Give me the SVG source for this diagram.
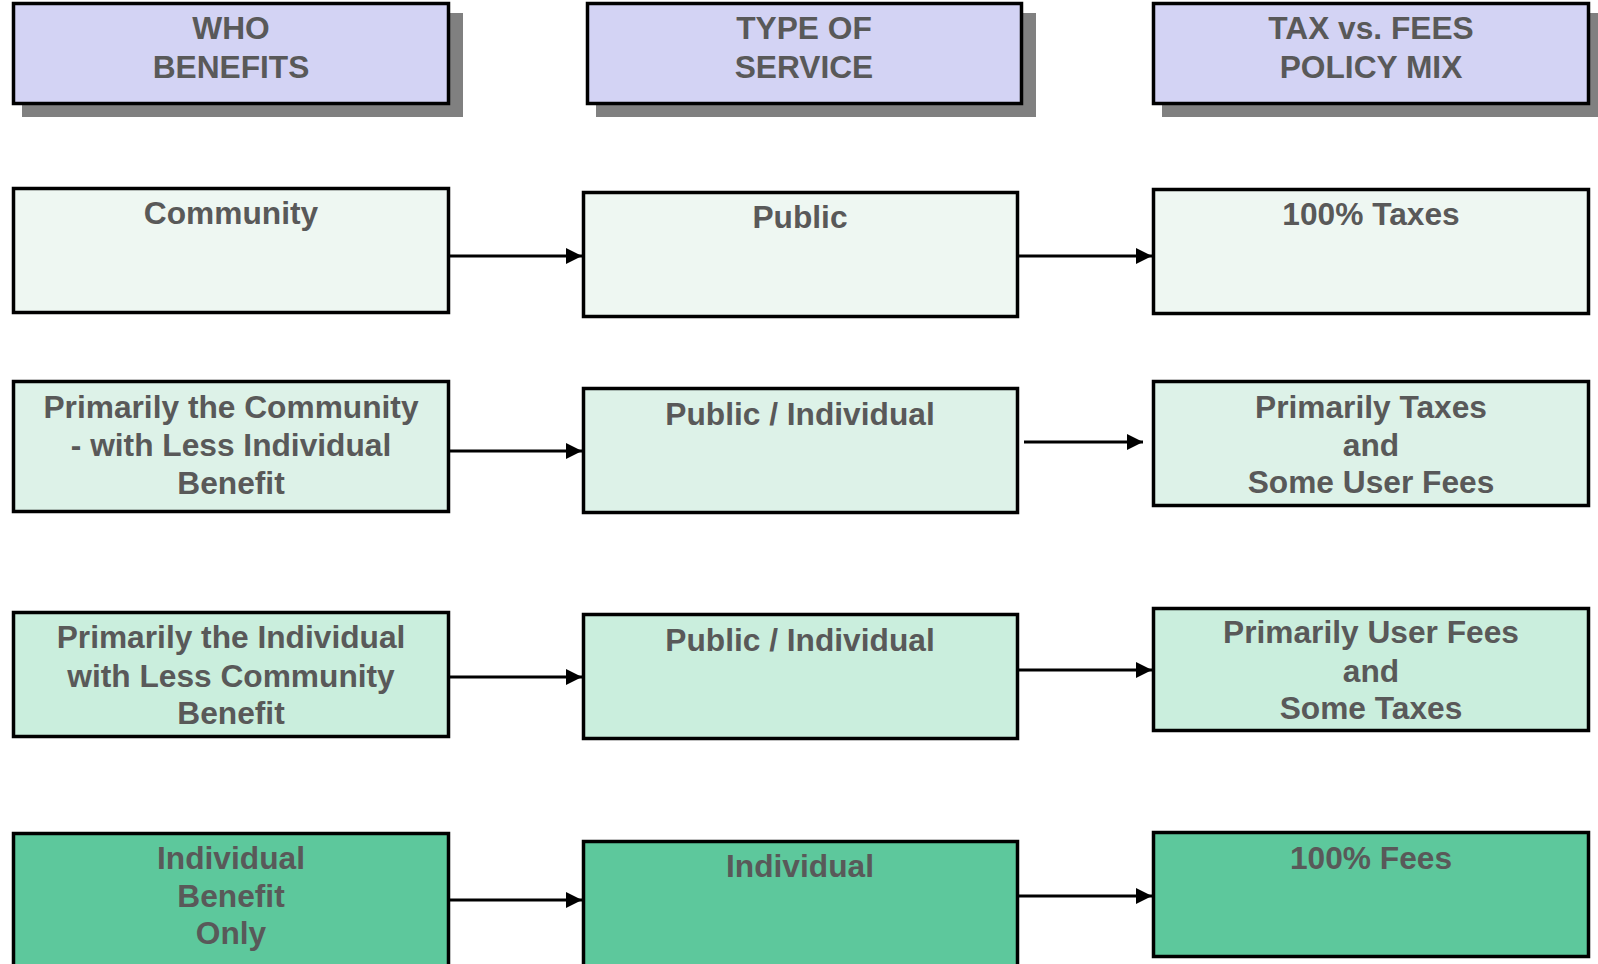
<svg xmlns="http://www.w3.org/2000/svg" width="1598" height="964" viewBox="0 0 1598 964">
<style>
.box{stroke:#000;stroke-width:3.5}
.hdr{fill:#d3d3f4}
.shadow{fill:#808080}
.r1{fill:#eef7f2}
.r2{fill:#ddf2e8}
.r3{fill:#caeedd}
.r4{fill:#5dc89c}
text{font-family:"Liberation Sans",Arial,sans-serif;font-weight:bold;font-size:31.7px;fill:#595959;text-anchor:middle}
.conn{stroke:#000;stroke-width:3;fill:none}
</style>
<defs>
<marker id="arr" markerUnits="userSpaceOnUse" markerWidth="16" markerHeight="16" refX="16" refY="8" orient="auto">
<path d="M0,0 L16,8 L0,16 Z" fill="#000"/>
</marker>
</defs>
<rect width="1598" height="964" fill="#fff"/>

<g id="header-who">
<rect class="shadow" x="22" y="13" width="441" height="104"/>
<rect class="box hdr" x="13.5" y="3.5" width="435" height="100"/>
<text x="231" y="39">WHO</text>
<text x="231" y="78">BENEFITS</text>
</g>
<g id="header-type">
<rect class="shadow" x="596" y="13" width="440" height="104"/>
<rect class="box hdr" x="587.5" y="3.5" width="434" height="100"/>
<text x="804" y="39">TYPE OF</text>
<text x="804" y="78">SERVICE</text>
</g>
<g id="header-tax">
<rect class="shadow" x="1162" y="13" width="441" height="104"/>
<rect class="box hdr" x="1153.5" y="3.5" width="435" height="100"/>
<text x="1371" y="39">TAX vs. FEES</text>
<text x="1371" y="78">POLICY MIX</text>
</g>

<g id="community">
<rect class="box r1" x="13.5" y="188.5" width="435" height="124"/>
<text x="231" y="224">Community</text>
</g>
<g id="public">
<rect class="box r1" x="583.5" y="192.5" width="434" height="124"/>
<text x="800" y="228">Public</text>
</g>
<g id="taxes100">
<rect class="box r1" x="1153.5" y="189.5" width="435" height="124"/>
<text x="1371" y="225">100% Taxes</text>
</g>

<g id="primarily-community">
<rect class="box r2" x="13.5" y="381.5" width="435" height="130"/>
<text x="231" y="418">Primarily the Community</text>
<text x="231" y="456">- with Less Individual</text>
<text x="231" y="494">Benefit</text>
</g>
<g id="public-individual-1">
<rect class="box r2" x="583.5" y="388.5" width="434" height="124"/>
<text x="800" y="425">Public / Individual</text>
</g>
<g id="primarily-taxes">
<rect class="box r2" x="1153.5" y="381.5" width="435" height="124"/>
<text x="1371" y="418">Primarily Taxes</text>
<text x="1371" y="456">and</text>
<text x="1371" y="493">Some User Fees</text>
</g>

<g id="primarily-individual">
<rect class="box r3" x="13.5" y="612.5" width="435" height="124"/>
<text x="231" y="648">Primarily the Individual</text>
<text x="231" y="687">with Less Community</text>
<text x="231" y="724">Benefit</text>
</g>
<g id="public-individual-2">
<rect class="box r3" x="583.5" y="614.5" width="434" height="124"/>
<text x="800" y="651">Public / Individual</text>
</g>
<g id="primarily-fees">
<rect class="box r3" x="1153.5" y="608.5" width="435" height="122"/>
<text x="1371" y="643">Primarily User Fees</text>
<text x="1371" y="682">and</text>
<text x="1371" y="719">Some Taxes</text>
</g>

<g id="individual-benefit">
<rect class="box r4" x="13.5" y="833.5" width="435" height="140"/>
<text x="231" y="869">Individual</text>
<text x="231" y="907">Benefit</text>
<text x="231" y="944">Only</text>
</g>
<g id="individual">
<rect class="box r4" x="583.5" y="841.5" width="434" height="140"/>
<text x="800" y="877">Individual</text>
</g>
<g id="fees100">
<rect class="box r4" x="1153.5" y="832.5" width="435" height="124"/>
<text x="1371" y="869">100% Fees</text>
</g>

<g id="connectors">
<line class="conn" x1="450" y1="256" x2="582" y2="256" marker-end="url(#arr)"/>
<line class="conn" x1="1019" y1="256" x2="1152" y2="256" marker-end="url(#arr)"/>
<line class="conn" x1="450" y1="451" x2="582" y2="451" marker-end="url(#arr)"/>
<line class="conn" x1="1024" y1="442" x2="1143" y2="442" marker-end="url(#arr)"/>
<line class="conn" x1="450" y1="677" x2="582" y2="677" marker-end="url(#arr)"/>
<line class="conn" x1="1019" y1="670" x2="1152" y2="670" marker-end="url(#arr)"/>
<line class="conn" x1="450" y1="900" x2="582" y2="900" marker-end="url(#arr)"/>
<line class="conn" x1="1019" y1="896" x2="1152" y2="896" marker-end="url(#arr)"/>
</g>
</svg>
